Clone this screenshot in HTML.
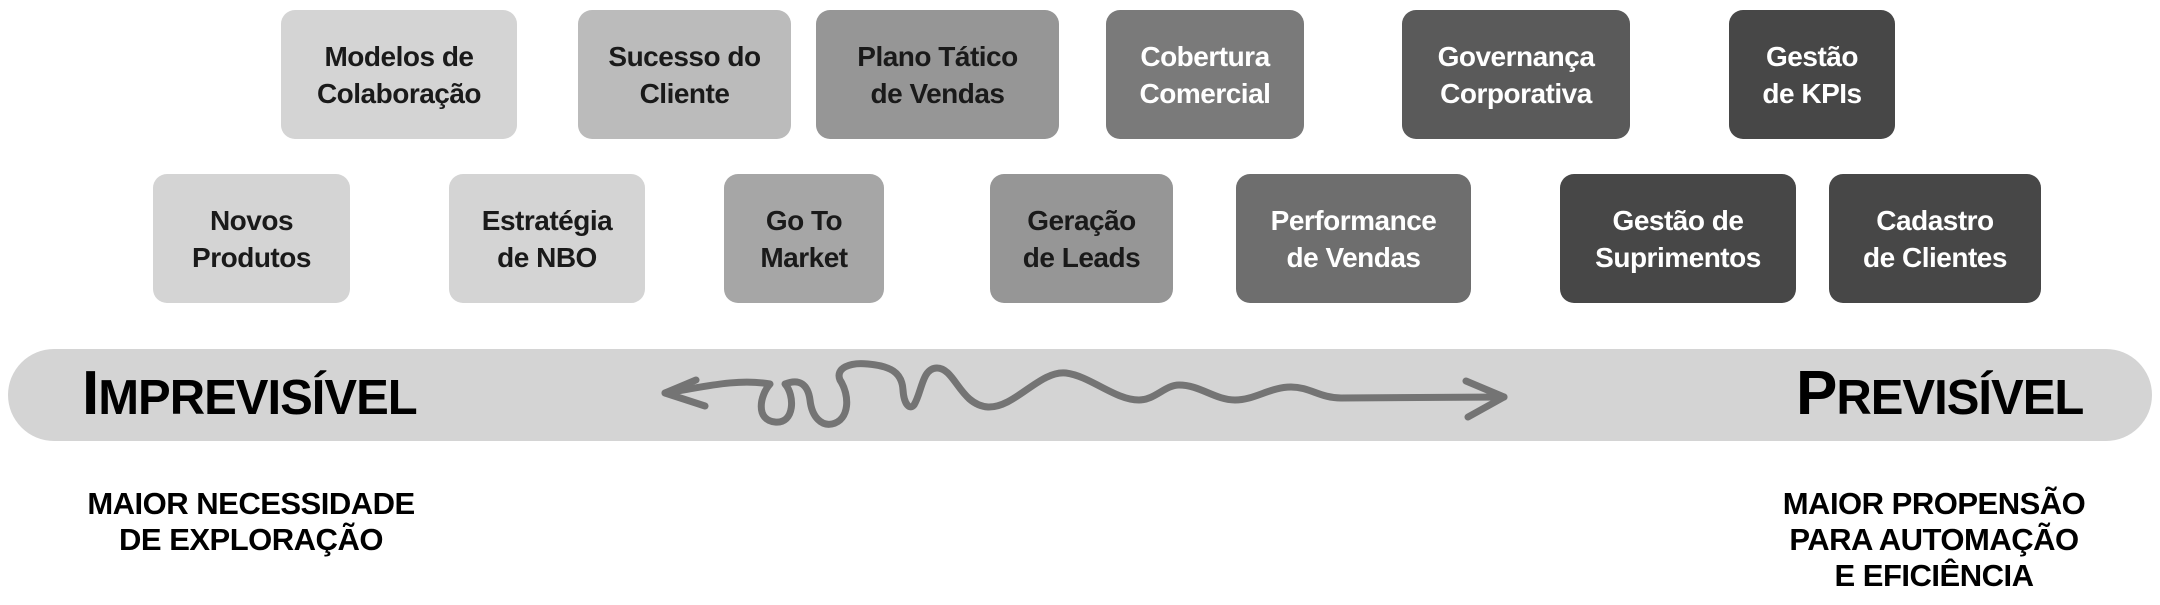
<!DOCTYPE html>
<html><head><meta charset="utf-8"><style>
body{margin:0;width:2160px;height:605px;background:#fff;position:relative;overflow:hidden;font-family:"Liberation Sans",sans-serif}
.b{position:absolute;border-radius:14px;display:flex;align-items:center;justify-content:center;text-align:center;font-weight:bold;font-size:28px;line-height:37px;color:#1a1a1a;letter-spacing:-0.5px}
.w{color:#fff}
.band{position:absolute;left:8px;top:349px;width:2144px;height:92px;border-radius:46px;background:#d4d4d4}
.big{position:absolute;font-weight:900;color:#000;white-space:nowrap;letter-spacing:-1px}
.cap{position:absolute;font-weight:bold;font-size:31px;line-height:36px;text-align:center;color:#000;letter-spacing:-0.5px}
</style></head><body>
<div class="b" style="left:281px;top:10px;width:236px;height:129px;background:#d4d4d4">Modelos de<br>Colaboração</div>
<div class="b" style="left:578px;top:10px;width:213px;height:129px;background:#bbbbbb">Sucesso do<br>Cliente</div>
<div class="b" style="left:816px;top:10px;width:243px;height:129px;background:#969696">Plano Tático<br>de Vendas</div>
<div class="b w" style="left:1106px;top:10px;width:198px;height:129px;background:#7a7a7a">Cobertura<br>Comercial</div>
<div class="b w" style="left:1402px;top:10px;width:228px;height:129px;background:#5a5a5a">Governança<br>Corporativa</div>
<div class="b w" style="left:1729px;top:10px;width:166px;height:129px;background:#474747">Gestão<br>de KPIs</div>

<div class="b" style="left:153px;top:174px;width:197px;height:129px;background:#d4d4d4">Novos<br>Produtos</div>
<div class="b" style="left:449px;top:174px;width:196px;height:129px;background:#d4d4d4">Estratégia<br>de NBO</div>
<div class="b" style="left:724px;top:174px;width:160px;height:129px;background:#a6a6a6">Go To<br>Market</div>
<div class="b" style="left:990px;top:174px;width:183px;height:129px;background:#969696">Geração<br>de Leads</div>
<div class="b w" style="left:1236px;top:174px;width:235px;height:129px;background:#6e6e6e">Performance<br>de Vendas</div>
<div class="b w" style="left:1560px;top:174px;width:236px;height:129px;background:#474747">Gestão de<br>Suprimentos</div>
<div class="b w" style="left:1829px;top:174px;width:212px;height:129px;background:#474747">Cadastro<br>de Clientes</div>

<div class="band"></div>
<div class="big" style="left:82px;top:362px;font-size:62px;line-height:64px"><span>I</span><span style="font-size:49px">MPREVISÍVEL</span></div>
<div class="big" style="left:1796px;top:362px;font-size:62px;line-height:64px"><span>P</span><span style="font-size:49px">REVISÍVEL</span></div>

<svg style="position:absolute;left:0;top:0" width="2160" height="605">
<g fill="none" stroke="#747474" stroke-width="7" stroke-linecap="round" stroke-linejoin="round">
<path d="M665,393 C700,388 735,378 770,384 C760,395 755,420 775,422 C795,424 795,395 785,384 C800,378 808,385 810,400 C812,418 822,426 832,424 C850,420 850,395 840,380 C835,368 850,362 868,364 C890,366 902,372 903,390 C904,405 910,410 914,405 C922,392 922,368 937,368 C955,368 960,405 988,407 C1015,408 1040,370 1066,373 C1090,376 1115,400 1139,400 C1155,400 1165,385 1179,385 C1200,385 1215,400 1235,400 C1255,400 1270,387 1291,387 C1310,387 1320,398 1341,398 L1504,397"/>
<path d="M696,380 L665,393 L705,406"/>
<path d="M1466,381 L1504,397 L1468,417"/>
</g></svg>

<div class="cap" style="left:51px;top:486px;width:400px">MAIOR NECESSIDADE<br>DE EXPLORAÇÃO</div>
<div class="cap" style="left:1734px;top:486px;width:400px">MAIOR PROPENSÃO<br>PARA AUTOMAÇÃO<br>E EFICIÊNCIA</div>
</body></html>
